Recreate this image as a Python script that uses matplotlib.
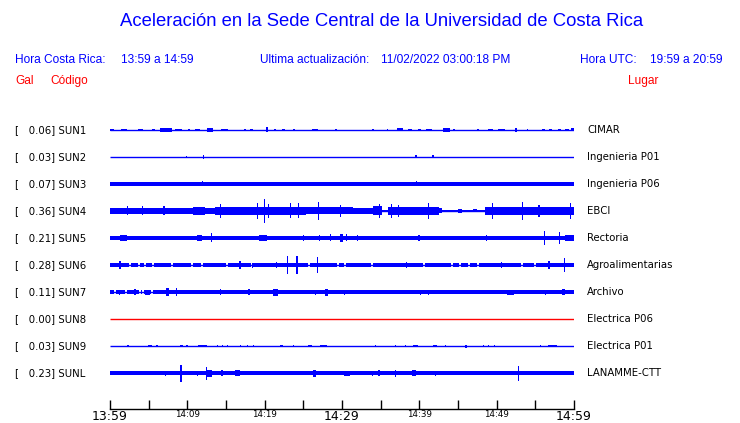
import matplotlib
matplotlib.use("Agg")
import matplotlib.pyplot as plt

# ---------------- data ----------------
codes = ["SUN1", "SUN2", "SUN3", "SUN4", "SUN5", "SUN6", "SUN7", "SUN8", "SUN9", "SUNL"]
gal = [0.06, 0.03, 0.07, 0.36, 0.21, 0.28, 0.11, 0.00, 0.03, 0.23]
places = ["CIMAR", "Ingenieria P01", "Ingenieria P06", "EBCI", "Rectoria",
          "Agroalimentarias", "Archivo", "Electrica P06", "Electrica P01", "LANAMME-CTT"]
tick_minutes = [0, 5, 10, 15, 20, 25, 30, 35, 40, 45, 50, 55, 60]
tick_labels = ["13:59", "", "14:09", "", "14:19", "", "14:29", "", "14:39", "", "14:49", "", "14:59"]
big_ticks = ["13:59", "14:29", "14:59"]

# base half-thickness of each trace (display units)
base_amp = [0.5, 0.45, 1.7, 0.0, 2.4, 1.7, 1.9, 0.45, 0.45, 1.7]

# bursts / envelope pieces: (start minute, end minute, half amplitude)
SUN1_ev = [(0.0, 0.5, 1.3), (1.4, 2.2, 1.3), (3.6, 4.3, 1.3), (5.4, 5.8, 1.0), (6.5, 8.0, 1.8),
           (8.4, 9.3, 1.3), (10.1, 10.3, 1.0), (11.0, 11.6, 1.0), (12.5, 13.3, 1.8), (14.4, 15.3, 1.3),
           (17.3, 17.6, 1.0), (18.1, 18.5, 1.0), (20.2, 20.4, 2.5), (21.2, 21.5, 1.0), (22.2, 22.6, 1.0),
           (23.7, 23.9, 1.0), (26.1, 26.9, 1.3), (29.1, 29.3, 1.0), (33.9, 34.1, 1.0), (35.8, 36.0, 1.0),
           (37.1, 37.9, 1.5), (38.5, 39.1, 1.0), (39.8, 40.2, 1.0), (40.8, 41.6, 1.0), (43.1, 44.0, 2.3),
           (44.4, 44.6, 1.0), (47.5, 47.7, 1.0), (48.9, 49.5, 1.3), (50.2, 51.1, 1.3), (52.4, 52.6, 2.0),
           (53.9, 54.1, 1.0), (55.9, 56.3, 1.3), (56.8, 57.2, 1.3), (57.9, 58.3, 1.3), (58.9, 59.3, 1.3),
           (59.6, 60.0, 1.5)]
SUN2_ev = [(9.8, 9.9, 1.0), (12.0, 12.2, 1.8), (39.5, 39.7, 1.5), (41.7, 41.9, 1.5)]
SUN3_ev = [(11.9, 12.05, 2.5), (39.6, 39.75, 2.5), (58.8, 60.0, 2.0)]
SUN4_ev = [(0.0, 13.6, 3.2), (10.7, 12.3, 3.8), (13.6, 25.3, 4.2), (25.3, 31.4, 3.5), (31.4, 34.0, 3.0),
           (34.0, 35.2, 4.5), (35.2, 36.0, 1.3), (36.0, 42.5, 4.3), (42.5, 42.95, 2.5), (42.95, 48.5, 1.0),
           (45.0, 45.5, 2.0), (46.9, 47.5, 1.5), (48.5, 60.0, 4.0),
           (2.2, 2.35, 4.5), (4.1, 4.25, 4.5), (6.9, 7.05, 4.5), (14.2, 14.35, 7.0), (19.0, 19.15, 8.0),
           (19.9, 20.05, 12.0), (20.4, 20.55, 7.0), (23.3, 23.45, 7.5), (24.3, 24.45, 7.5), (26.9, 27.05, 9.0),
           (29.7, 29.85, 6.0), (34.8, 34.95, 7.0), (36.3, 36.45, 7.0), (37.2, 37.35, 6.0), (41.1, 41.25, 8.0),
           (49.4, 49.55, 8.0), (53.3, 53.45, 9.0), (55.4, 55.55, 6.0), (59.5, 59.65, 8.0)]
SUN5_ev = [(1.3, 2.2, 2.8), (11.3, 11.9, 3.0), (13.05, 13.2, 4.5), (19.3, 20.3, 3.0), (25.0, 25.15, 3.0),
           (27.0, 27.15, 3.0), (28.4, 28.55, 3.5), (29.7, 30.1, 4.2), (30.5, 30.65, 3.5), (31.9, 32.05, 3.2),
           (39.8, 40.1, 2.8), (48.6, 48.75, 2.8), (56.15, 56.3, 7.0), (58.1, 58.25, 6.0), (58.9, 60.0, 3.0)]
SUN6_ev = [(1.2, 1.4, 3.7), (2.2, 2.35, 2.0), (16.7, 16.9, 4.0), (18.4, 18.55, 2.5), (20.0, 20.1, 2.0),
           (21.5, 21.65, 3.0), (22.9, 23.05, 9.2), (24.1, 24.25, 8.7), (26.8, 26.95, 8.0),
           (38.3, 38.45, 3.0), (50.6, 50.75, 3.0), (56.6, 56.9, 4.0), (58.7, 58.85, 7.0)]
SUN6_gaps = [2.59, 3.79, 4.53, 5.52, 8.06, 10.64, 11.94, 15.17, 18.32, 25.73, 29.52, 30.39,
             33.84, 40.64, 44.19, 45.26, 46.42, 47.63, 53.24, 54.96]
SUN7_ev = [(1.2, 1.35, 2.5), (3.15, 3.3, 3.0), (4.5, 5.2, 2.5), (6.1, 6.25, 2.3), (7.3, 7.6, 3.7),
           (8.5, 8.65, 4.3), (10.0, 10.15, 2.3), (11.5, 11.65, 2.3), (14.2, 14.35, 3.0), (15.5, 15.6, 2.3),
           (17.9, 18.05, 3.0), (19.1, 19.2, 2.3), (20.3, 20.4, 2.3), (21.1, 21.7, 3.5), (26.5, 26.65, 2.5),
           (27.8, 28.2, 3.5), (30.3, 30.45, 2.5), (31.3, 31.4, 2.3), (35.5, 35.9, 2.3), (40.1, 40.25, 2.5),
           (41.1, 41.25, 2.5), (44.2, 44.35, 2.3), (45.6, 46.3, 2.3), (49.1, 49.2, 2.3), (51.4, 52.3, 2.5),
           (54.9, 55.05, 2.3), (56.2, 56.35, 2.5), (58.4, 58.9, 3.0)]
SUN7_gaps = [0.65, 2.07, 3.88, 4.27, 4.66, 5.04, 5.43]
SUN8_ev = []
SUN9_ev = [(2.2, 2.45, 1.3), (4.9, 5.4, 1.3), (6.0, 6.15, 1.3), (9.05, 9.45, 1.3), (9.85, 10.1, 1.3),
           (11.4, 12.5, 1.3), (13.85, 14.0, 1.3), (14.5, 14.65, 1.3), (15.1, 15.3, 1.3), (16.8, 16.95, 1.3),
           (17.7, 17.85, 1.3), (18.5, 18.65, 1.3), (21.95, 22.4, 1.3), (23.65, 23.8, 1.3), (25.6, 26.1, 1.3),
           (27.15, 28.05, 1.3), (34.25, 34.4, 1.0), (36.85, 37.0, 1.0), (38.15, 38.3, 1.0), (39.2, 39.85, 1.3),
           (41.75, 42.3, 1.3), (43.3, 43.45, 1.0), (45.85, 46.1, 1.5), (48.2, 48.35, 1.3), (48.9, 49.05, 1.3),
           (49.6, 49.75, 1.3), (55.6, 55.75, 1.0), (56.65, 57.8, 1.0)]
SUNL_ev = [(7.1, 7.25, 2.5), (9.1, 9.25, 8.5), (11.2, 11.35, 2.5), (12.4, 12.55, 6.5), (12.55, 13.2, 3.5),
           (14.4, 14.55, 3.0), (16.2, 16.8, 3.0), (18.8, 18.95, 2.2), (19.8, 19.95, 2.2), (22.6, 22.75, 2.2),
           (26.2, 26.6, 3.5), (30.3, 31.0, 2.5), (33.9, 34.0, 2.5), (34.6, 34.9, 3.0), (36.8, 36.95, 3.5),
           (39.0, 39.6, 3.0), (42.0, 42.15, 2.5), (47.8, 47.95, 2.2), (52.75, 52.9, 7.5), (55.2, 56.0, 2.2),
           (59.0, 59.15, 2.2)]

events = [SUN1_ev, SUN2_ev, SUN3_ev, SUN4_ev, SUN5_ev, SUN6_ev, SUN7_ev, SUN8_ev, SUN9_ev, SUNL_ev]
gaps = [[], [], [], [], [], SUN6_gaps, SUN7_gaps, [], [], []]
trace_colors = ["#0000ff"] * 7 + ["#ff0000"] + ["#0000ff"] * 2

# ---------------- figure ----------------
W, H = 740, 423
fig = plt.figure(figsize=(W / 100, H / 100), dpi=100)
fig.patch.set_facecolor("white")

def fx(px):
    return px / W

def fy(py):
    return 1 - py / H

SPACING = 27
ax = fig.add_axes([fx(110), fy(409), 464 / W, 294 / H])
ax.set_xlim(0, 60)
ax.set_ylim(-279, 15)
for s in ["top", "left", "right"]:
    ax.spines[s].set_visible(False)
ax.spines["bottom"].set_linewidth(1.0)
ax.set_yticks([])
ax.set_xticks(tick_minutes)
ax.set_xticklabels(tick_labels, family="DejaVu Sans")
for lbl in ax.get_xticklabels():
    if lbl.get_text() in big_ticks:
        lbl.set_fontsize(9.0)
    else:
        lbl.set_fontsize(6.3)
ax.tick_params(axis="x", direction="in", length=6.5, width=1.0, pad=0.6, colors="black")
ax.patch.set_visible(False)

GW = 0.22  # gap width in minutes
for i in range(len(codes)):
    y0 = -SPACING * i
    col = trace_colors[i]
    ax.plot([0, 60], [y0, y0], color=col, lw=1.0, solid_capstyle="butt")
    b = base_amp[i]
    if b > 0.6:
        edges = [0.0]
        for g in gaps[i]:
            edges += [g - GW / 2, g + GW / 2]
        edges.append(60.0)
        starts = edges[0::2]
        ends = edges[1::2]
        ax.bar(starts, 2 * b, width=[e - s for s, e in zip(starts, ends)], bottom=y0 - b,
               align="edge", color=col, lw=0)
    if events[i]:
        st = [e[0] for e in events[i]]
        wd = [e[1] - e[0] for e in events[i]]
        am = [e[2] for e in events[i]]
        ax.bar(st, [2 * a for a in am], width=wd, bottom=[y0 - a for a in am],
               align="edge", color=col, lw=0)

    fig.text(fx(15), fy(130 + SPACING * i), f"[ {gal[i]:6.2f}] {codes[i]}",
             family="DejaVu Sans", fontsize=7.3, va="center", ha="left", color="black")
    fig.text(fx(587), fy(130 + SPACING * i), places[i],
             family="DejaVu Sans", fontsize=7.3, va="center", ha="left", color="black")

blue = "#0000ff"
red = "#ff0000"
fig.text(fx(382), fy(22), "Aceleración en la Sede Central de la Universidad de Costa Rica",
         family="Liberation Sans", fontsize=13.3, color=blue, ha="center", va="center")
hs = 8.6
fig.text(fx(15), fy(60), "Hora Costa Rica:", family="Liberation Sans", fontsize=hs, color=blue, va="center")
fig.text(fx(121), fy(60), "13:59 a 14:59", family="Liberation Sans", fontsize=hs, color=blue, va="center")
fig.text(fx(260), fy(60), "Ultima actualización:", family="Liberation Sans", fontsize=hs, color=blue, va="center")
fig.text(fx(381), fy(60), "11/02/2022 03:00:18 PM", family="Liberation Sans", fontsize=hs, color=blue, va="center")
fig.text(fx(580), fy(60), "Hora UTC:", family="Liberation Sans", fontsize=hs, color=blue, va="center")
fig.text(fx(650), fy(60), "19:59 a 20:59", family="Liberation Sans", fontsize=hs, color=blue, va="center")
fig.text(fx(15), fy(81), "Gal", family="Liberation Sans", fontsize=hs, color=red, va="center")
fig.text(fx(50), fy(81), "Código", family="Liberation Sans", fontsize=hs, color=red, va="center")
fig.text(fx(628), fy(81), "Lugar", family="Liberation Sans", fontsize=hs, color=red, va="center")

fig.savefig("out.png", dpi=100, facecolor="white")
